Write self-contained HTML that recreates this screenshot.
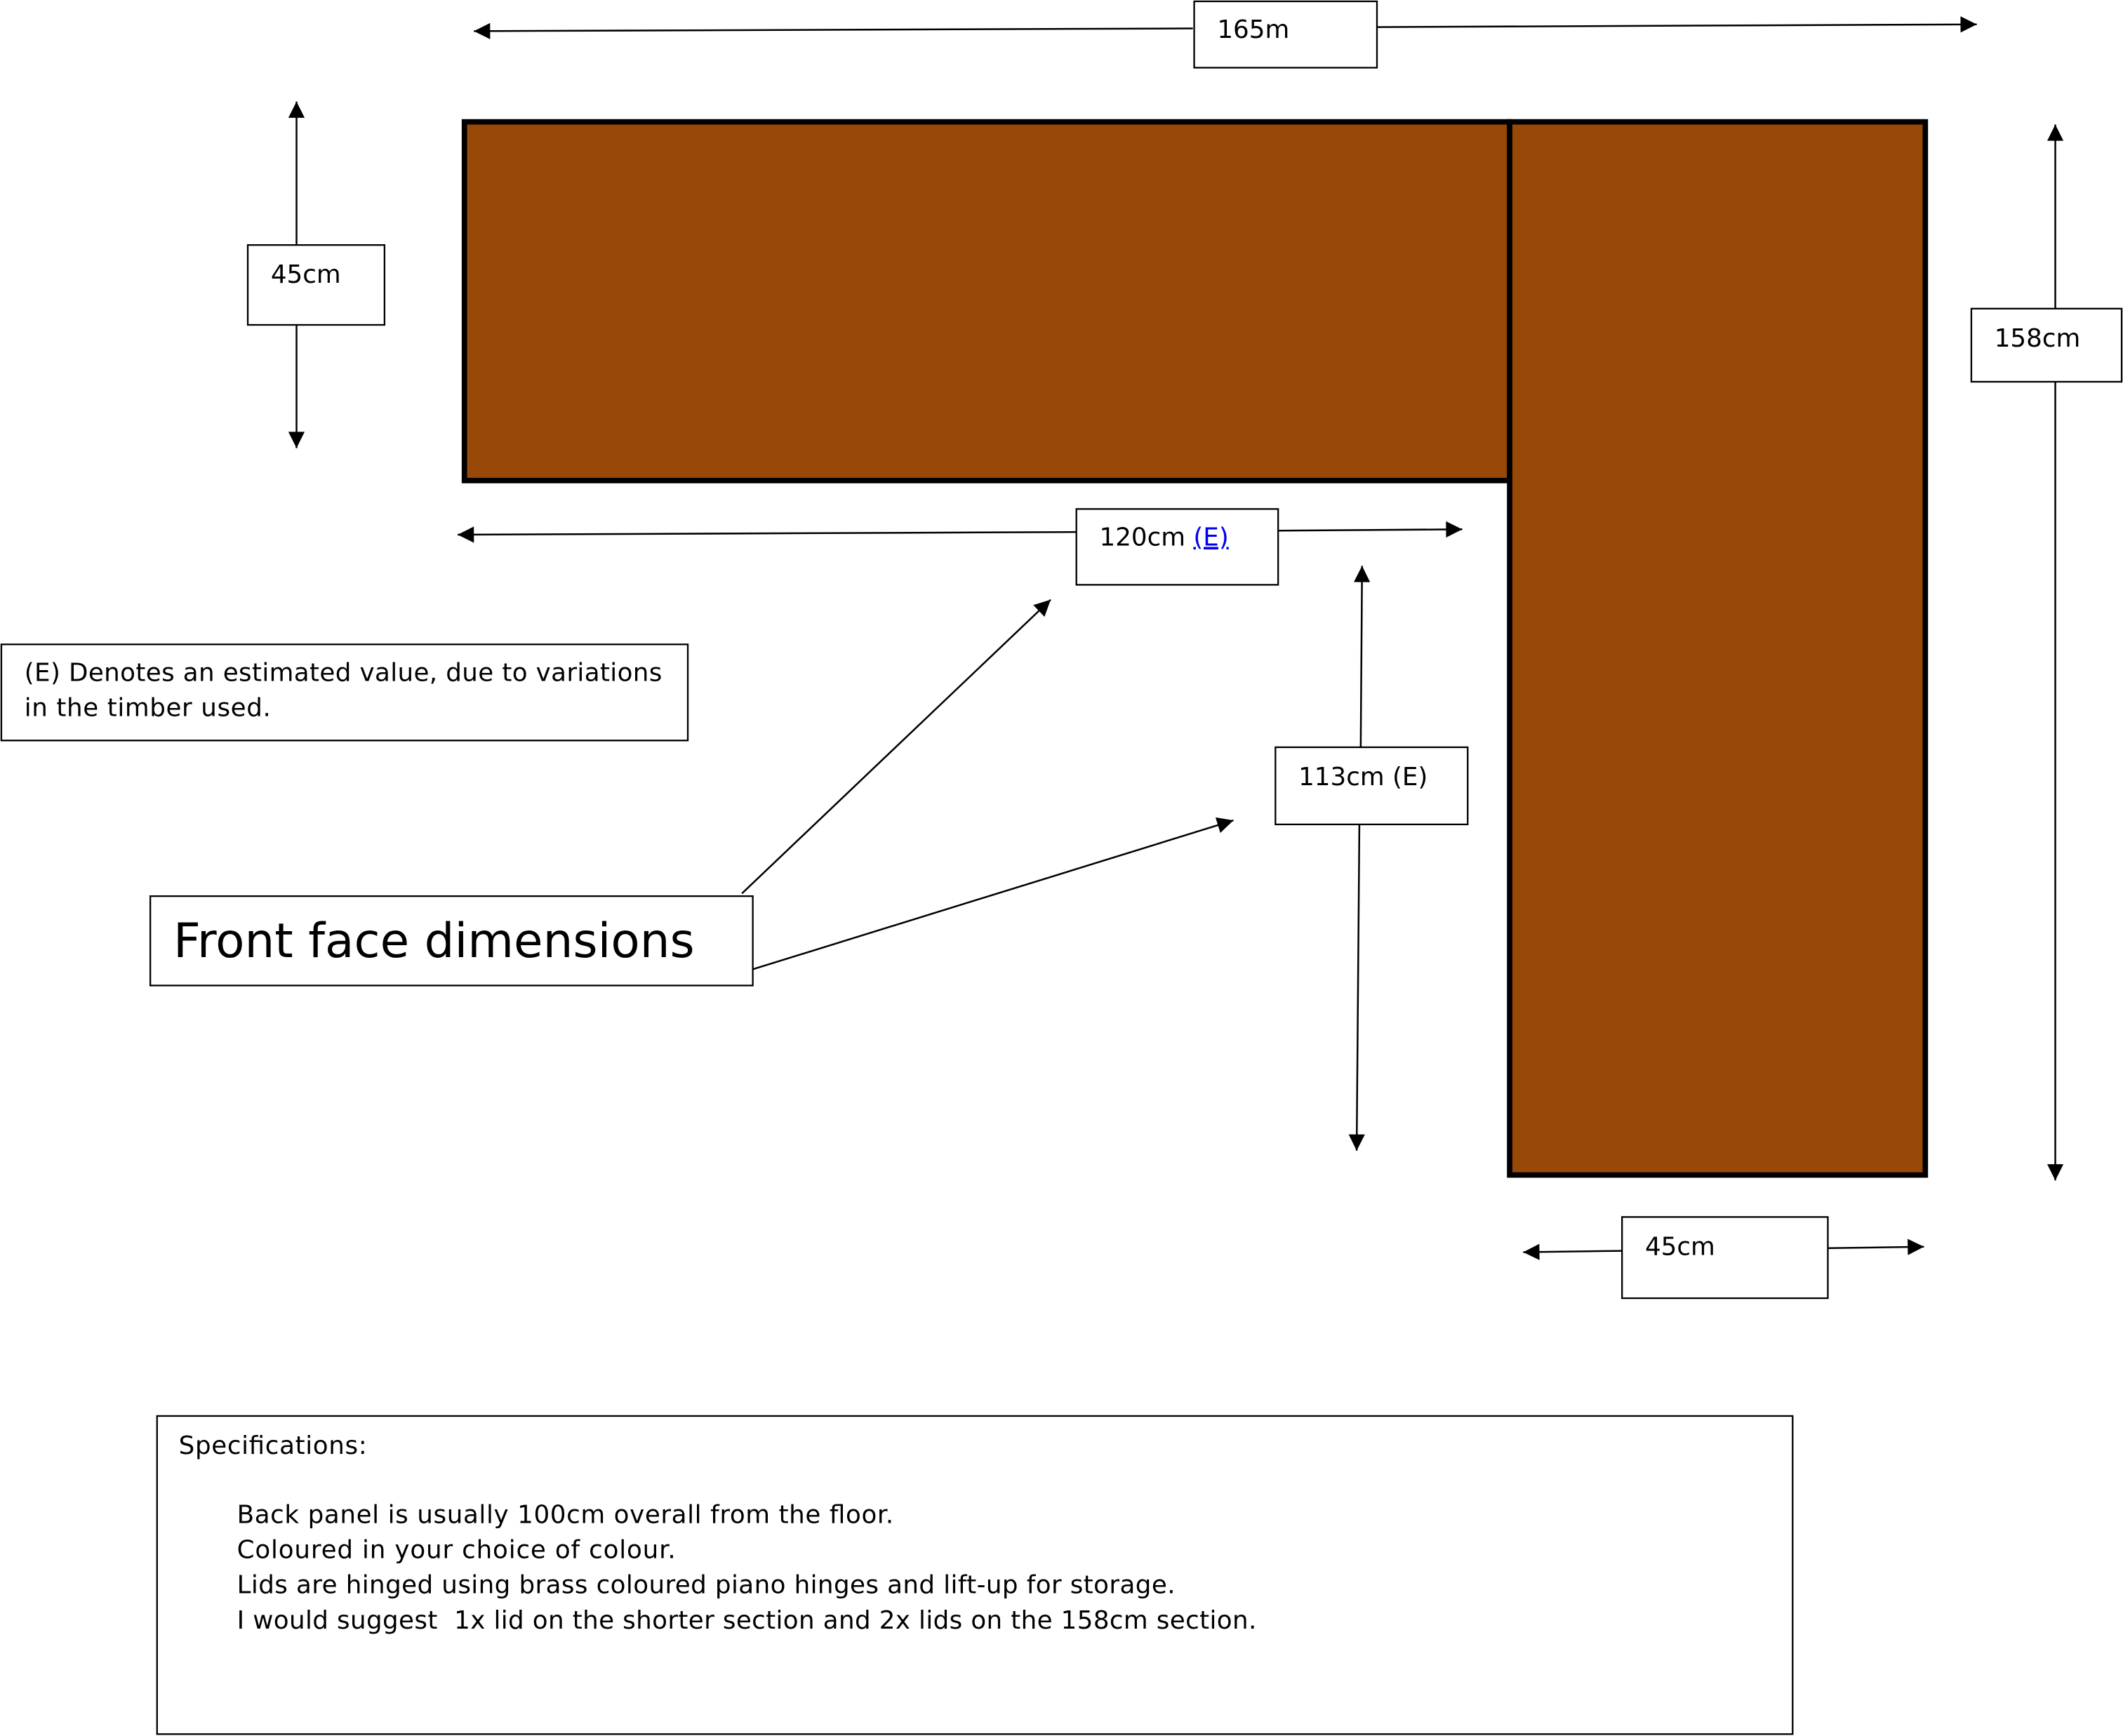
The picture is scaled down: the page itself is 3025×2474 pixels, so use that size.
<!DOCTYPE html>
<html><head><style>html,body{margin:0;padding:0;background:#fff}svg{display:block}</style></head>
<body>
<svg width="3025" height="2474" viewBox="0 0 1568 1282.4" preserveAspectRatio="none" xmlns="http://www.w3.org/2000/svg" font-family="'DejaVu Sans','Liberation Sans',sans-serif" font-size="18.5">
<defs>
<marker id="b" viewBox="0 0 10 10" markerWidth="14" markerHeight="12" refX="10" refY="5" orient="auto" markerUnits="userSpaceOnUse"><path d="M0,0 L10,5 L0,10 z" fill="#000"/></marker></defs>
<g stroke="#000" stroke-width="1.3" fill="none">
<line x1="881" y1="21" x2="350" y2="23" marker-end="url(#b)"/>
<line x1="1017" y1="20" x2="1460" y2="18" marker-end="url(#b)"/>
<line x1="219" y1="181" x2="219" y2="75" marker-end="url(#b)"/>
<line x1="219" y1="240" x2="219" y2="331" marker-end="url(#b)"/>
<line x1="1518" y1="228" x2="1518" y2="92" marker-end="url(#b)"/>
<line x1="1518" y1="282" x2="1518" y2="872" marker-end="url(#b)"/>
<line x1="795" y1="393" x2="338" y2="395" marker-end="url(#b)"/>
<line x1="944" y1="392" x2="1080" y2="391" marker-end="url(#b)"/>
<line x1="1005" y1="552" x2="1006" y2="418" marker-end="url(#b)"/>
<line x1="1004" y1="609" x2="1002" y2="850" marker-end="url(#b)"/>
<line x1="548" y1="660" x2="776" y2="443" marker-end="url(#b)"/>
<line x1="556" y1="716" x2="911" y2="606" marker-end="url(#b)"/>
<line x1="1198" y1="924" x2="1125" y2="925" marker-end="url(#b)"/>
<line x1="1350" y1="922" x2="1421" y2="921" marker-end="url(#b)"/>
</g>
<g fill="#984807" stroke="#000" stroke-width="4">
<rect x="343" y="90" width="772" height="265"/>
<rect x="1115" y="90" width="307" height="778"/>
</g>
<g fill="#fff" stroke="#000" stroke-width="1.2">
<rect x="882" y="1" width="135" height="49"/>
<rect x="183" y="181" width="101" height="59"/>
<rect x="1456" y="228" width="111" height="54"/>
<rect x="795" y="376" width="149" height="56"/>
<rect x="942" y="552" width="142" height="57"/>
<rect x="1" y="476" width="507" height="71"/>
<rect x="111" y="662" width="445" height="66"/>
<rect x="1198" y="899" width="152" height="60"/>
<rect x="116" y="1046" width="1208" height="235"/>
</g>
<g fill="#000">
<text x="899" y="28">165m</text>
<text x="200" y="209">45cm</text>
<text x="1473" y="256">158cm</text>
<text x="812" y="403">120cm <tspan fill="#0000ee" text-decoration="underline">(E)</tspan></text>
<text x="959" y="580">113cm (E)</text>
<text x="18" y="503" textLength="471">(E) Denotes an estimated value, due to variations</text>
<text x="18" y="529" textLength="182">in the timber used.</text>
<text x="128" y="707" font-size="35" textLength="385">Front face dimensions</text>
<text x="1215" y="927">45cm</text>
<text x="132" y="1074" textLength="139">Specifications:</text>
<text x="175" y="1125" textLength="485">Back panel is usually 100cm overall from the floor.</text>
<text x="175" y="1151" textLength="324">Coloured in your choice of colour.</text>
<text x="175" y="1177" textLength="693">Lids are hinged using brass coloured piano hinges and lift-up for storage.</text>
<text x="175" y="1203" xml:space="preserve" textLength="753">I would suggest  1x lid on the shorter section and 2x lids on the 158cm section.</text>
</g>
</svg>
</body></html>
